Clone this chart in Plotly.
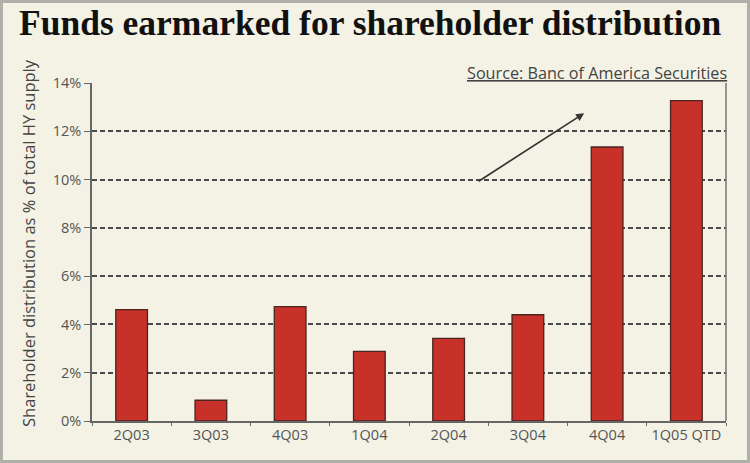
import plotly.graph_objects as go

categories = ["2Q03", "3Q03", "4Q03", "1Q04", "2Q04", "3Q04", "4Q04", "1Q05 QTD"]
values = [4.61, 0.86, 4.74, 2.88, 3.42, 4.40, 11.35, 13.27]
y_ticks = [0, 2, 4, 6, 8, 10, 12, 14]
y_tick_labels = [f"{v}%" for v in y_ticks]

W, H = 750, 463
ML, MR, MT, MB = 92, 24, 83, 42
PW, PH = W - ML - MR, H - MT - MB

def px_x(p):
    return (p - ML) / PW

def px_y(p):
    return (H - MB - p) / PH

bg = "#F3F2E5"
sans = "Open Sans, sans-serif"
fig = go.Figure()
fig.add_trace(go.Bar(
    x=categories, y=values,
    marker=dict(color="#C8302A", line=dict(color="#4A2520", width=1.3)),
    width=0.4,
))

fig.update_layout(
    width=W, height=H,
    margin=dict(l=ML, r=MR, t=MT, b=MB),
    paper_bgcolor=bg, plot_bgcolor=bg,
    showlegend=False,
    font=dict(family=sans, color="#555555", size=14),
    xaxis=dict(
        type="category", range=[-0.5, 7.5], automargin=False, tickangle=0,
        showline=True, linecolor="#666666", linewidth=1.5,
        ticks="outside", tickson="boundaries", ticklen=3, tickcolor="#666666",
        showgrid=False, tickfont=dict(family=sans, size=14.5, color="#555555"),
    ),
    yaxis=dict(
        range=[0, 14], tickvals=y_ticks, ticktext=y_tick_labels, automargin=False,
        showline=True, linecolor="#666666", linewidth=1.5,
        ticks="outside", ticklen=6, tickcolor="#666666",
        showgrid=True, gridcolor="#4A4A4A", griddash="5px,3px", gridwidth=1.6,
        zeroline=False, tickfont=dict(family=sans, size=14.5, color="#555555"),
    ),
    shapes=[
        dict(type="line", xref="paper", yref="paper", x0=1, x1=1, y0=0, y1=1,
             line=dict(color="#777777", width=1.5)),
        dict(type="rect", xref="paper", yref="paper",
             x0=px_x(1.5), x1=px_x(748.5), y0=px_y(461.5), y1=px_y(1.5),
             line=dict(color="#B0B0AA", width=3)),
    ],
    annotations=[
        dict(text="<b>Funds earmarked for shareholder distribution</b>",
             xref="paper", yref="paper", x=px_x(17), y=px_y(45),
             xanchor="left", yanchor="bottom", showarrow=False,
             font=dict(family="Liberation Serif, serif", size=35.5, color="#111111")),
        dict(text="Shareholder distribution as % of total HY supply",
             xref="paper", yref="paper", x=px_x(28), y=px_y(243),
             xanchor="center", yanchor="middle", textangle=-90, showarrow=False,
             font=dict(family=sans, size=16.5, color="#444444")),
        dict(text="<u>Source: Banc of America Securities</u>",
             xref="paper", yref="paper", x=px_x(729), y=px_y(86),
             xanchor="right", yanchor="bottom", showarrow=False,
             font=dict(family=sans, size=16.2, color="#444444")),
        dict(text="", x=5.71, y=12.75, ax=4.36, ay=9.89,
             xref="x", yref="y", axref="x", ayref="y",
             showarrow=True, arrowhead=2, arrowsize=1, arrowwidth=1.6,
             arrowcolor="#333333"),
    ],
)

fig.write_html("out.html",
               config={"displayModeBar": False},
               post_script="document.body.style.margin='0';document.body.style.overflow='hidden';")
